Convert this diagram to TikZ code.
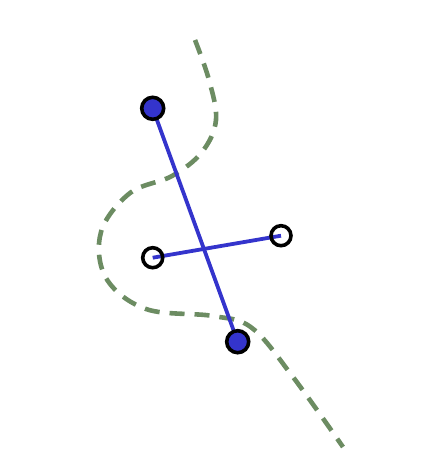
\documentclass[tikz,border=0pt]{standalone}
\definecolor{dashgreen}{RGB}{108,140,98}
\definecolor{segblue}{RGB}{52,52,204}
\tikzset{
  curvepath/.style={draw=dashgreen, line width=4.6pt, dash pattern=on 15pt off 10pt},
  segline/.style={draw=segblue, line width=3.8pt},
  fulldot/.style={circle, draw=black, line width=3.6pt, fill=segblue, minimum size=22pt, inner sep=0pt},
  opendot/.style={circle, draw=black, line width=3.6pt, minimum size=20pt, inner sep=0pt}
}
\begin{document}
\begin{tikzpicture}[x=1pt,y=-1pt]
\useasboundingbox (0,0) rectangle (428,469);
\draw[curvepath] plot[smooth, tension=0.6] coordinates {(195,40) (209,80) (216,120) (202,152) (172,176) (130,193) (101,232) (106,278) (146,309) (213,316) (252,328) (293,377) (343,447)};
\coordinate (a) at (152.7,108.3);
\coordinate (b) at (237.7,341.7);
\coordinate (c) at (152.7,257.7);
\coordinate (d) at (281,235.7);
\draw[segline] (a) -- (b);
\draw[segline] (c) -- (d);
\node[fulldot] (na) at (a) {};
\node[fulldot] (nb) at (b) {};
\node[opendot] (nc) at (c) {};
\node[opendot] (nd) at (d) {};
\end{tikzpicture}
\end{document}
